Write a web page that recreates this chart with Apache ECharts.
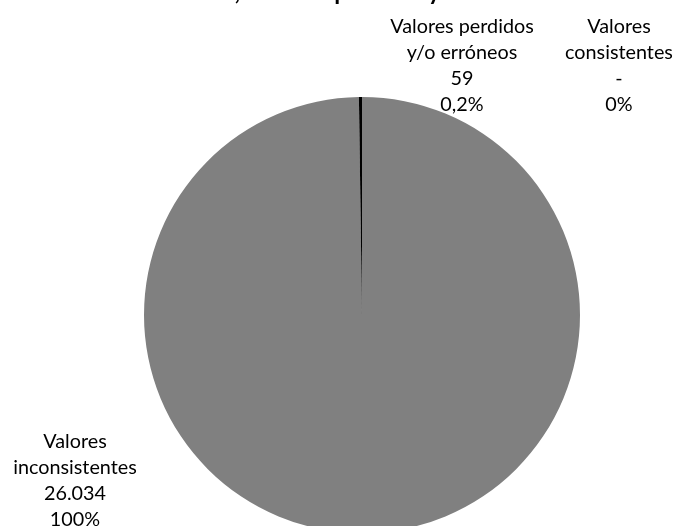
<!DOCTYPE html>
<html>
<head>
<meta charset="utf-8">
<script src="https://cdn.jsdelivr.net/npm/echarts@6/dist/echarts.min.js"></script>
<style>
html,body{margin:0;padding:0;background:#fff;}
#c{width:676px;height:526px;}
</style>
</head>
<body>
<div id="c"></div>
<script>
// Data
const titleText = "Año 2019, estados por área y sexo";
const categories = ["Valores inconsistentes", "Valores perdidos y/o erróneos", "Valores consistentes"];
const labelNames = ["Valores\ninconsistentes", "Valores perdidos\ny/o erróneos", "Valores\nconsistentes"];
const values = [26034, 59, 0];
const percentLabels = ["100%", "0,2%", "0%"];
const colors = ["#808080", "#000000", "#A5A5A5"];

function fmt(v) {
  if (v === 0) return "-";
  return String(v).replace(/\B(?=(\d{3})+(?!\d))/g, ".");
}

const labelPos = [
  { x: 75, y: 481 },
  { x: 462, y: 66 },
  { x: 619, y: 66 }
];

const chart = echarts.init(document.getElementById('c'), null, { renderer: 'canvas' });
chart.setOption({
  backgroundColor: '#ffffff',
  animation: false,
  title: {
    text: titleText,
    left: 124,
    top: -27,
    textStyle: { fontFamily: 'Lato', fontWeight: 'bold', fontSize: 24, color: '#000', lineHeight: 28 }
  },
  series: [{
    type: 'pie',
    center: [362, 315],
    radius: 218,
    startAngle: 90,
    clockwise: true,
    avoidLabelOverlap: false,
    data: categories.map((c, i) => ({
      name: c,
      value: values[i],
      itemStyle: { color: colors[i] }
    })),
    itemStyle: { borderWidth: 0 },
    label: {
      show: true,
      position: 'outside',
      formatter: p => labelNames[p.dataIndex] + "\n" + fmt(values[p.dataIndex]) + "\n" + percentLabels[p.dataIndex],
      fontFamily: 'Lato',
      fontSize: 19.8,
      lineHeight: 26,
      color: '#000',
      align: 'center'
    },
    labelLine: { show: false },
    labelLayout: function (params) {
      const p = labelPos[params.dataIndex];
      return { x: p.x, y: p.y, align: 'center', verticalAlign: 'middle' };
    },
    emphasis: { disabled: true }
  }]
});
</script>
</body>
</html>
